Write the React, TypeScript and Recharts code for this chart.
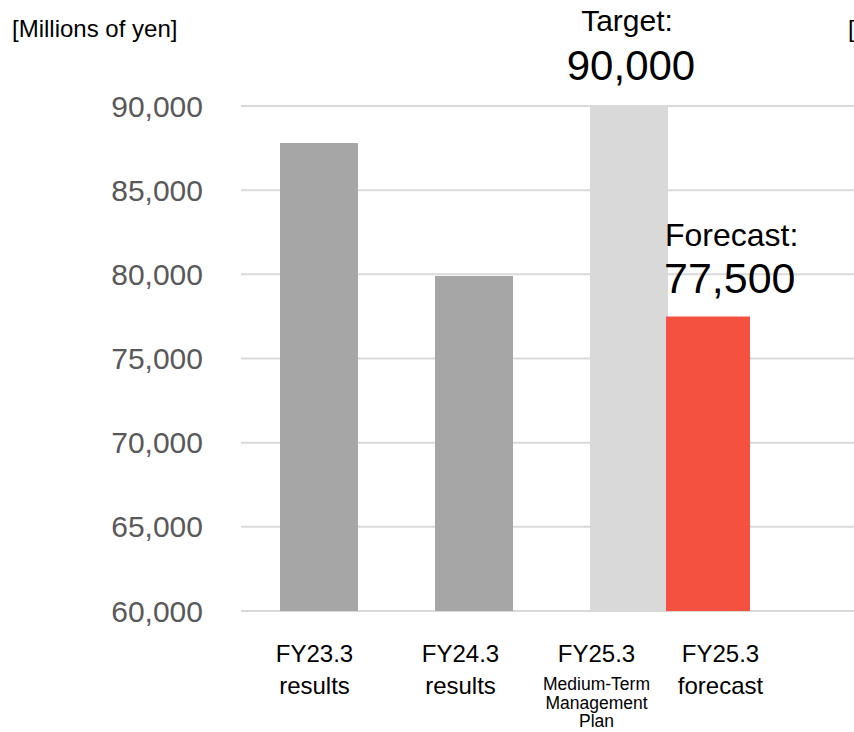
import { Bar, BarChart, CartesianGrid, Cell, LabelList, XAxis, YAxis } from 'recharts';

const categories = ['FY23.3', 'FY24.3', 'FY25.3'];
const subLabels = [['results'], ['results'], ['Medium-Term', 'Management', 'Plan']];
const mainValues = [87800, 79900, 90000];
const forecastValues = [null, null, 77500];
const forecastLabel = ['FY25.3', 'forecast'];
const yTicks = [60000, 65000, 70000, 75000, 80000, 85000, 90000];

const data = categories.map((c, i) => ({ category: c, main: mainValues[i], forecast: forecastValues[i] }));

const FONT = '"Liberation Sans", Arial, sans-serif';
const mainColors = ['#a6a6a6', '#a6a6a6', '#d9d9d9'];
const labelShift = [-4, -13, -32];

const fmt = (v: number) => v.toLocaleString('en-US');

function XTick(props: any) {
  const { x, y, payload, index } = props;
  const i = payload?.index ?? index;
  const cx = x + labelShift[i];
  const subs = subLabels[i];
  const small = subs.length > 1;
  return (
    <g fontFamily={FONT} fill="#000">
      <text x={cx} y={y + 51} textAnchor="middle" fontSize={24}>{categories[i]}</text>
      {subs.map((s, k) => (
        <text key={s} x={cx} y={small ? y + 79 + k * 18.5 : y + 83} textAnchor="middle" fontSize={small ? 17.5 : 24}>
          {s}
        </text>
      ))}
      {i === 2 && (
        <>
          <text x={x + 92} y={y + 51} textAnchor="middle" fontSize={24}>{forecastLabel[0]}</text>
          <text x={x + 92} y={y + 83} textAnchor="middle" fontSize={24}>{forecastLabel[1]}</text>
        </>
      )}
    </g>
  );
}

function TargetLabel(props: any) {
  const { x, y, width, value, index } = props;
  if (index !== 2 || value == null) return null;
  const cx = x + width / 2;
  return (
    <g fontFamily={FONT} fill="#000">
      <text x={cx - 2} y={y - 75} textAnchor="middle" fontSize={30}>Target:</text>
      <text x={cx + 2} y={y - 26} textAnchor="middle" fontSize={42}>{fmt(value)}</text>
    </g>
  );
}

function ForecastLabel(props: any) {
  const { x, y, value } = props;
  if (value == null) return null;
  return (
    <g fontFamily={FONT} fill="#000">
      <text x={x - 1} y={y - 70} textAnchor="start" fontSize={32}>Forecast:</text>
      <text x={x - 2} y={y - 23} textAnchor="start" fontSize={43}>{fmt(value)}</text>
    </g>
  );
}

export default function App() {
  return (
    <div style={{ position: 'absolute', left: 0, top: 0, width: 854, height: 732, background: '#fff' }}>
      <BarChart width={854} height={732} data={data} margin={{ top: 106, right: 0, bottom: 0, left: 0 }} barGap={0}>
        <CartesianGrid vertical={false} stroke="#d9d9d9" strokeWidth={2} />
        <XAxis
          dataKey="category"
          height={121}
          padding={{ left: 0, right: 148 }}
          axisLine={false}
          tickLine={false}
          tickSize={0}
          tickMargin={0}
          interval={0}
          tick={(p: any) => <XTick {...p} />}
        />
        <XAxis xAxisId="f" dataKey="category" hide padding={{ left: 79, right: 69 }} />
        <YAxis
          width={241}
          domain={[60000, 90000]}
          ticks={yTicks}
          axisLine={false}
          tickLine={false}
          tickSize={0}
          tickMargin={38}
          tickFormatter={fmt}
          tick={{ fontSize: 30, fill: '#595959', fontFamily: FONT }}
        />
        <Bar dataKey="main" barSize={78} isAnimationActive={false}>
          {data.map((d, i) => (
            <Cell key={d.category} fill={mainColors[i]} />
          ))}
          <LabelList dataKey="main" content={(p: any) => <TargetLabel {...p} />} />
        </Bar>
        <Bar dataKey="forecast" xAxisId="f" barSize={84} fill="#f55140" isAnimationActive={false}>
          <LabelList dataKey="forecast" content={(p: any) => <ForecastLabel {...p} />} />
        </Bar>
      </BarChart>
      <svg width={854} height={732} style={{ position: 'absolute', left: 0, top: 0, pointerEvents: 'none' }}>
        <text x={12} y={37} fontSize={24} fontFamily={FONT} fill="#000">[Millions of yen]</text>
        <text x={848} y={37} fontSize={24} fontFamily={FONT} fill="#000">[</text>
      </svg>
    </div>
  );
}
